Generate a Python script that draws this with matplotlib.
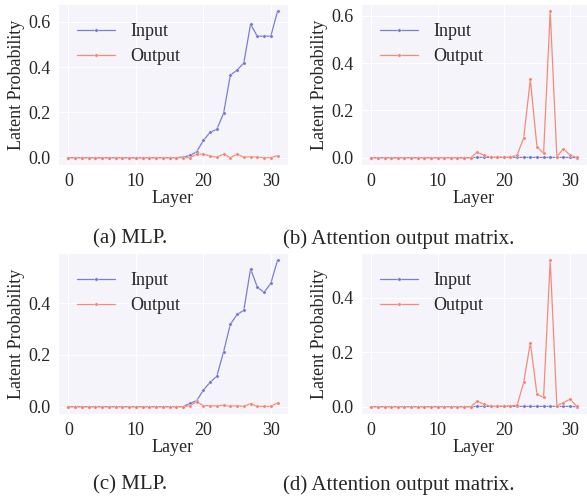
import matplotlib
matplotlib.use("Agg")
import matplotlib.pyplot as plt
import seaborn as sns
import numpy as np

sns.set_style("darkgrid", {"axes.facecolor": "#f4f4fa", "grid.color": "white"})
plt.rcParams['font.family'] = ['Liberation Serif', 'DejaVu Serif']

layers = list(range(32))

# (a) MLP
mlp_in_1 = [0]*17 + [0.003, 0.01, 0.026, 0.076, 0.112, 0.126, 0.196, 0.365, 0.387,
                     0.419, 0.59, 0.537, 0.537, 0.537, 0.647]
mlp_out_1 = [0]*19 + [0.015, 0.016, 0.007, 0.002, 0.016, 0.0, 0.016, 0.002, 0.004,
                      0.002, 0.0, 0.0, 0.009]
# (b) attention output matrix
att_in_1 = [0]*16 + [0.001]*15 + [0.0]
att_out_1 = [0]*16 + [0.024, 0.01, 0.001, 0.003, 0.001, 0.003, 0.01, 0.084, 0.331,
                      0.046, 0.018, 0.619, 0.004, 0.038, 0.01, 0.001]
# (c) MLP
mlp_in_2 = [0]*18 + [0.013, 0.023, 0.064, 0.094, 0.118, 0.212, 0.318, 0.356, 0.372,
                     0.532, 0.462, 0.441, 0.476, 0.565]
mlp_out_2 = [0]*18 + [0.004, 0.019, 0.004, 0.004, 0.003, 0.006, 0.001, 0.004, 0.001,
                      0.012, 0.001, 0.001, 0.001, 0.015]
# (d) attention output matrix
att_in_2 = [0]*16 + [0.001]*15 + [0.0]
att_out_2 = [0]*16 + [0.02, 0.009, 0.001, 0.002, 0.001, 0.004, 0.005, 0.089, 0.235,
                      0.046, 0.034, 0.538, 0.004, 0.015, 0.028, 0.001]

captions = ["(a) MLP.", "(b) Attention output matrix.",
            "(c) MLP.", "(d) Attention output matrix."]
series = [(mlp_in_1, mlp_out_1), (att_in_1, att_out_1),
          (mlp_in_2, mlp_out_2), (att_in_2, att_out_2)]

c_in = '#7070cc'
c_out = '#f4806c'

fig = plt.figure(figsize=(5.87, 4.97), dpi=100)
W, H = 587, 497
boxes = [(58, 4, 288, 165), (361, 4, 587, 165),
         (58, 253, 288, 414), (361, 253, 587, 414)]
cap_pos = [(130, 239), (399, 239), (130, 485), (399, 485)]

for i, (box, (yin, yout)) in enumerate(zip(boxes, series)):
    l, t, r, b = box
    ax = fig.add_axes([l / W, 1 - b / H, (r - l) / W, (b - t) / H])
    ax.plot(layers, yin, color=c_in, lw=0.9, marker='o', ms=2.5,
            mec='white', mew=0.3, label='Input', alpha=0.9)
    ax.plot(layers, yout, color=c_out, lw=0.9, marker='o', ms=2.5,
            mec='white', mew=0.3, label='Output', alpha=0.9)
    ax.set_xticks([0, 10, 20, 30])
    ax.tick_params(labelsize=13, pad=2)
    ax.set_xlabel('Layer', fontsize=13, labelpad=0)
    ax.set_ylabel('Latent Probability', fontsize=13, labelpad=2)
    ax.legend(loc='upper left', frameon=False, fontsize=13, handlelength=2.1,
              handletextpad=0.85, borderaxespad=0.65, labelspacing=0.45)
    fig.text(cap_pos[i][0] / W, 1 - cap_pos[i][1] / H, captions[i],
             fontsize=15, ha='center', va='center')

fig.savefig('out.png', dpi=100)
